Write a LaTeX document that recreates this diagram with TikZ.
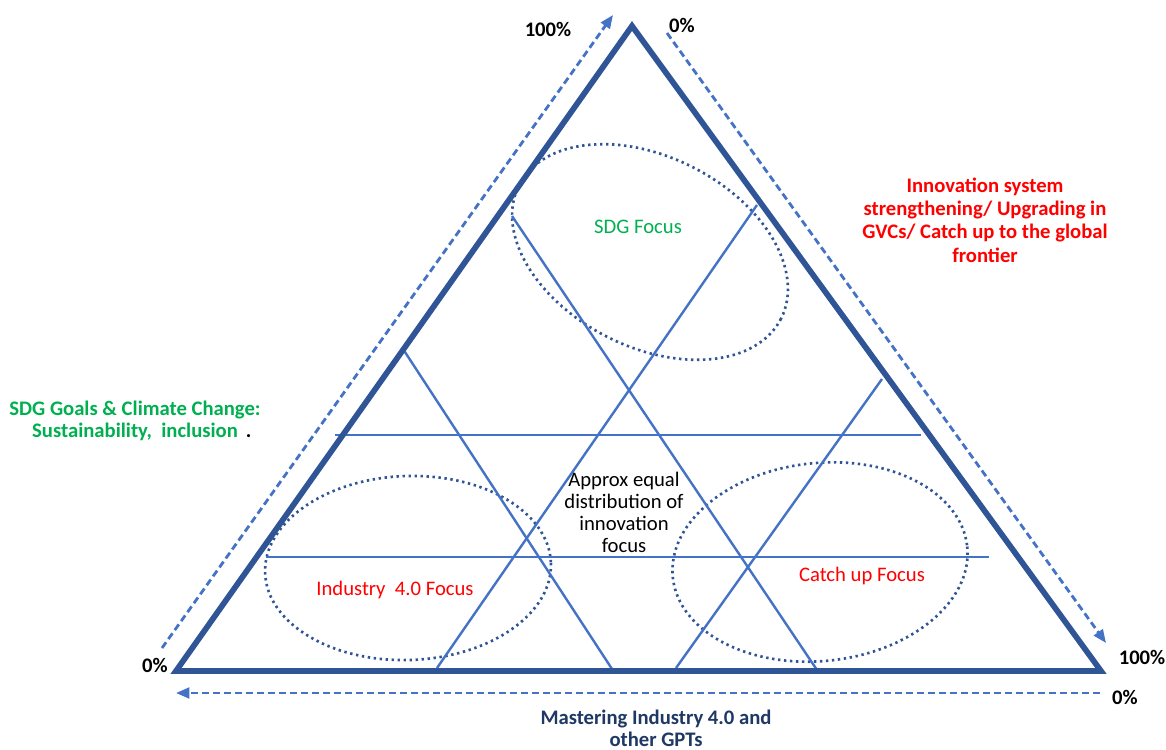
\documentclass[tikz,border=0pt]{standalone}
\usepackage{fontspec}
\setmainfont{Carlito}
\usetikzlibrary{arrows.meta}
\definecolor{triblue}{HTML}{2F5597}
\definecolor{lineblue}{HTML}{4472C4}
\definecolor{navy}{HTML}{1F3864}
\definecolor{sdggreen}{HTML}{00B050}
\definecolor{focusred}{HTML}{FF0000}
\begin{document}
\begin{tikzpicture}[x=0.75pt,y=-0.75pt,
  frame/.style={draw=triblue, line width=4.3pt, line join=miter},
  guide/.style={draw=lineblue, line width=1.8pt},
  axisarrow/.style={draw=lineblue, line width=2.1pt, dash pattern=on 5.25pt off 3pt,
    -{Triangle[length=10pt,width=8pt]}},
  zone/.style={draw=triblue, line width=2pt, dash pattern=on 1.8pt off 2.7pt},
  pct/.style={font=\fontsize{15.5}{17}\selectfont\bfseries, text=black, inner sep=0pt, anchor=base},
  lab/.style={font=\fontsize{15.5}{17.5}\selectfont, inner sep=0pt, align=center, anchor=base},
]
\useasboundingbox (0,0) rectangle (1166,749);

% triangle corners
\coordinate (apex) at (632,26);
\coordinate (bl) at (176,671);
\coordinate (br) at (1101,671);

% focus zones
\draw[zone, rotate around={-27:(650,252)}] (650,252) ellipse [x radius=147, y radius=95];
\draw[zone, rotate around={2:(408,568)}] (408,568) ellipse [x radius=143, y radius=92];
\draw[zone, rotate around={6:(820,562)}] (820,562) ellipse [x radius=148, y radius=99];

% guide lines inside the triangle
\coordinate (a1) at (757,205); \coordinate (a2) at (437,668);
\coordinate (b1) at (512,216); \coordinate (b2) at (817,670);
\coordinate (c1) at (403,349); \coordinate (c2) at (612,669);
\coordinate (d1) at (882,379); \coordinate (d2) at (676,668);
\coordinate (e1) at (335,435); \coordinate (e2) at (921,435);
\coordinate (f1) at (266,557); \coordinate (f2) at (989,557);
\draw[guide] (a1) -- (a2);
\draw[guide] (b1) -- (b2);
\draw[guide] (c1) -- (c2);
\draw[guide] (d1) -- (d2);
\draw[guide] (e1) -- (e2);
\draw[guide] (f1) -- (f2);

% outer triangle
\draw[frame] (apex) -- (bl) -- (br) -- cycle;

% axis arrows
\coordinate (l0) at (162,648); \coordinate (l1) at (613,15);
\coordinate (r0) at (667,33);  \coordinate (r1) at (1106,643);
\coordinate (s0) at (1100,693); \coordinate (s1) at (176,693);
\draw[axisarrow] (l0) -- (l1);
\draw[axisarrow] (r0) -- (r1);
\draw[axisarrow] (s0) -- (s1);

% percentage marks
\node[pct] (ltop) at (548,37) {100\%};
\node[pct] (rtop) at (682,33) {0\%};
\node[pct] (lbot) at (155,672) {0\%};
\node[pct] (rbot) at (1142,664) {100\%};
\node[pct] (sbot) at (1125,704) {0\%};

% axis captions (multi-line nodes sit on their last baseline)
\node[lab, font=\fontsize{15.5}{16.5}\selectfont\bfseries, text=sdggreen] (sdggoals) at (135,437)
  {SDG Goals \& Climate Change:\\Sustainability,\ \ inclusion\rlap{\hspace{6pt}\textcolor{black}{.}}};
\node[lab, font=\fontsize{15.5}{17.5}\selectfont\bfseries, text=focusred] (gvc) at (985,262)
  {Innovation system\\strengthening/ Upgrading in\\GVCs/ Catch up to the global\\frontier};
\node[lab, font=\fontsize{15.5}{16.5}\selectfont\bfseries, text=navy] (ind) at (656,746)
  {Mastering Industry 4.0 and\\other GPTs};

% zone captions
\node[lab, text=sdggreen] (sdgf) at (638,233) {SDG Focus};
\node[lab, text=focusred] (indf) at (395,595) {Industry\ \ 4.0 Focus};
\node[lab, text=focusred] (catf) at (862,581) {Catch up Focus};
\node[lab, font=\fontsize{15.5}{16.3}\selectfont, text=black] (eq) at (624,552)
  {Approx equal\\distribution of\\innovation\\focus};
\end{tikzpicture}
\end{document}
